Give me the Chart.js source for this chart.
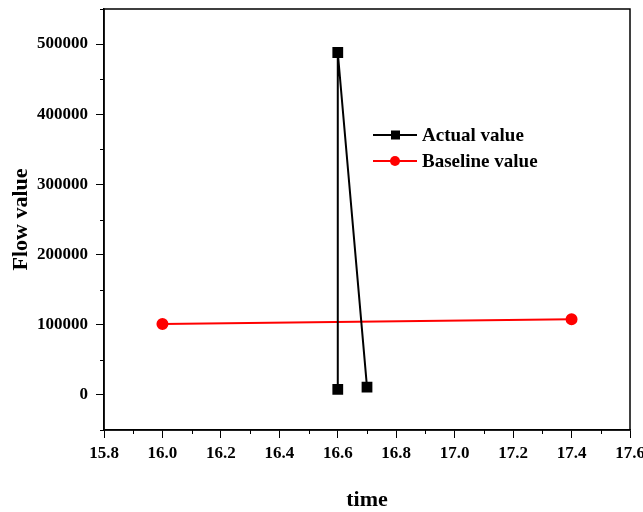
<!DOCTYPE html>
<html>
<head>
<meta charset="utf-8">
<script src="https://cdn.jsdelivr.net/npm/chart.js@4"></script>
<style>
  html, body { margin: 0; padding: 0; background: #fff; }
  #wrap { width: 643px; height: 512px; }
</style>
</head>
<body>
<div id="wrap"><canvas id="flowChart"></canvas></div>
<script>
const actualTime = [16.6, 16.6, 16.7];
const actualFlow = [8000, 488000, 11000];
const baselineTime = [16.0, 17.4];
const baselineFlow = [101000, 108000];
const seriesNames = ['Actual value', 'Baseline value'];

const FONT = "'Liberation Serif', 'Times New Roman', serif";

function toPoints(xs, ys) {
    return xs.map((x, i) => ({ x: x, y: ys[i] }));
}

function noPad(s) {
    s.paddingLeft = 0; s.paddingRight = 0;
    s.paddingTop = 0; s.paddingBottom = 0;
}

// frame, minor ticks and an in-plot legend
const framePlugin = {
    id: 'frame',
    afterDraw(chart) {
        const ctx = chart.ctx;
        const a = chart.chartArea;
        const xs = chart.scales.x, ys = chart.scales.y;
        ctx.save();
        ctx.strokeStyle = '#000';
        ctx.lineWidth = 1.5;
        ctx.strokeRect(a.left, a.top, a.right - a.left, a.bottom - a.top);

        ctx.lineWidth = 1;
        for (let v = 15.9; v < 17.6; v += 0.2) {
            const px = Math.round(xs.getPixelForValue(v)) + 0.5;
            ctx.beginPath();
            ctx.moveTo(px, a.bottom);
            ctx.lineTo(px, a.bottom + 4);
            ctx.stroke();
        }
        for (let v = -50000; v <= 550000; v += 100000) {
            const py = Math.round(ys.getPixelForValue(v)) + 0.5;
            ctx.beginPath();
            ctx.moveTo(a.left, py);
            ctx.lineTo(a.left - 4, py);
            ctx.stroke();
        }

        // legend
        const items = chart.data.datasets;
        const lx = 373, ly = 135, gap = 26;
        items.forEach((ds, i) => {
            const y = ly + i * gap;
            ctx.strokeStyle = ds.borderColor;
            ctx.lineWidth = 2;
            ctx.beginPath();
            ctx.moveTo(lx, y);
            ctx.lineTo(lx + 44, y);
            ctx.stroke();
            ctx.fillStyle = ds.pointBackgroundColor;
            if (ds.pointStyle === 'rect') {
                ctx.fillRect(lx + 18, y - 4.5, 9, 9);
            } else {
                ctx.beginPath();
                ctx.arc(lx + 22, y, 5, 0, Math.PI * 2);
                ctx.fill();
            }
            ctx.fillStyle = '#000';
            ctx.font = 'bold 19px ' + FONT;
            ctx.textBaseline = 'middle';
            ctx.fillText(ds.label, lx + 49, y + 1);
        });
        ctx.restore();
    }
};

new Chart(document.getElementById('flowChart'), {
    type: 'line',
    plugins: [framePlugin],
    data: {
        datasets: [
            {
                label: seriesNames[0],
                data: toPoints(actualTime, actualFlow),
                borderColor: '#000',
                backgroundColor: '#000',
                pointBackgroundColor: '#000',
                pointBorderColor: '#000',
                pointStyle: 'rect',
                pointRadius: 6.2,
                borderWidth: 2,
                tension: 0
            },
            {
                label: seriesNames[1],
                data: toPoints(baselineTime, baselineFlow),
                borderColor: '#ff0000',
                backgroundColor: '#ff0000',
                pointBackgroundColor: '#ff0000',
                pointBorderColor: '#ff0000',
                pointStyle: 'circle',
                pointRadius: 5,
                borderWidth: 2,
                tension: 0
            }
        ]
    },
    options: {
        responsive: true,
        maintainAspectRatio: false,
        animation: false,
        layout: {
            padding: { top: 9, right: 13, left: 0, bottom: 0 }
        },
        plugins: {
            legend: { display: false },
            tooltip: { enabled: false }
        },
        scales: {
            x: {
                type: 'linear',
                min: 15.8,
                max: 17.6,
                border: { display: true, color: '#000', width: 1.5 },
                grid: { drawOnChartArea: false, color: '#000', tickLength: 8 },
                ticks: {
                    stepSize: 0.2,
                    color: '#000',
                    padding: 5,
                    font: { family: FONT, size: 17, weight: 'bold' },
                    callback: (v) => Number(v).toFixed(1)
                },
                title: {
                    display: true,
                    text: 'time',
                    color: '#000',
                    padding: { top: 36, bottom: -2 },
                    font: { family: FONT, size: 22, weight: 'bold' }
                },
                afterFit: (s) => { s.height = 82; noPad(s); }
            },
            y: {
                min: -50000,
                max: 550000,
                border: { display: true, color: '#000', width: 1.5 },
                grid: { drawOnChartArea: false, color: '#000', tickLength: 8 },
                ticks: {
                    stepSize: 100000,
                    color: '#000',
                    padding: 8,
                    font: { family: FONT, size: 17, weight: 'bold' },
                    callback: (v) => String(v)
                },
                afterBuildTicks: (s) => {
                    s.ticks = [0, 100000, 200000, 300000, 400000, 500000].map(v => ({ value: v }));
                },
                title: {
                    display: true,
                    text: 'Flow value',
                    color: '#000',
                    padding: { top: 8, bottom: 0 },
                    font: { family: FONT, size: 22, weight: 'bold' }
                },
                afterFit: (s) => { s.width = 104; noPad(s); }
            }
        }
    }
});
</script>
</body>
</html>
